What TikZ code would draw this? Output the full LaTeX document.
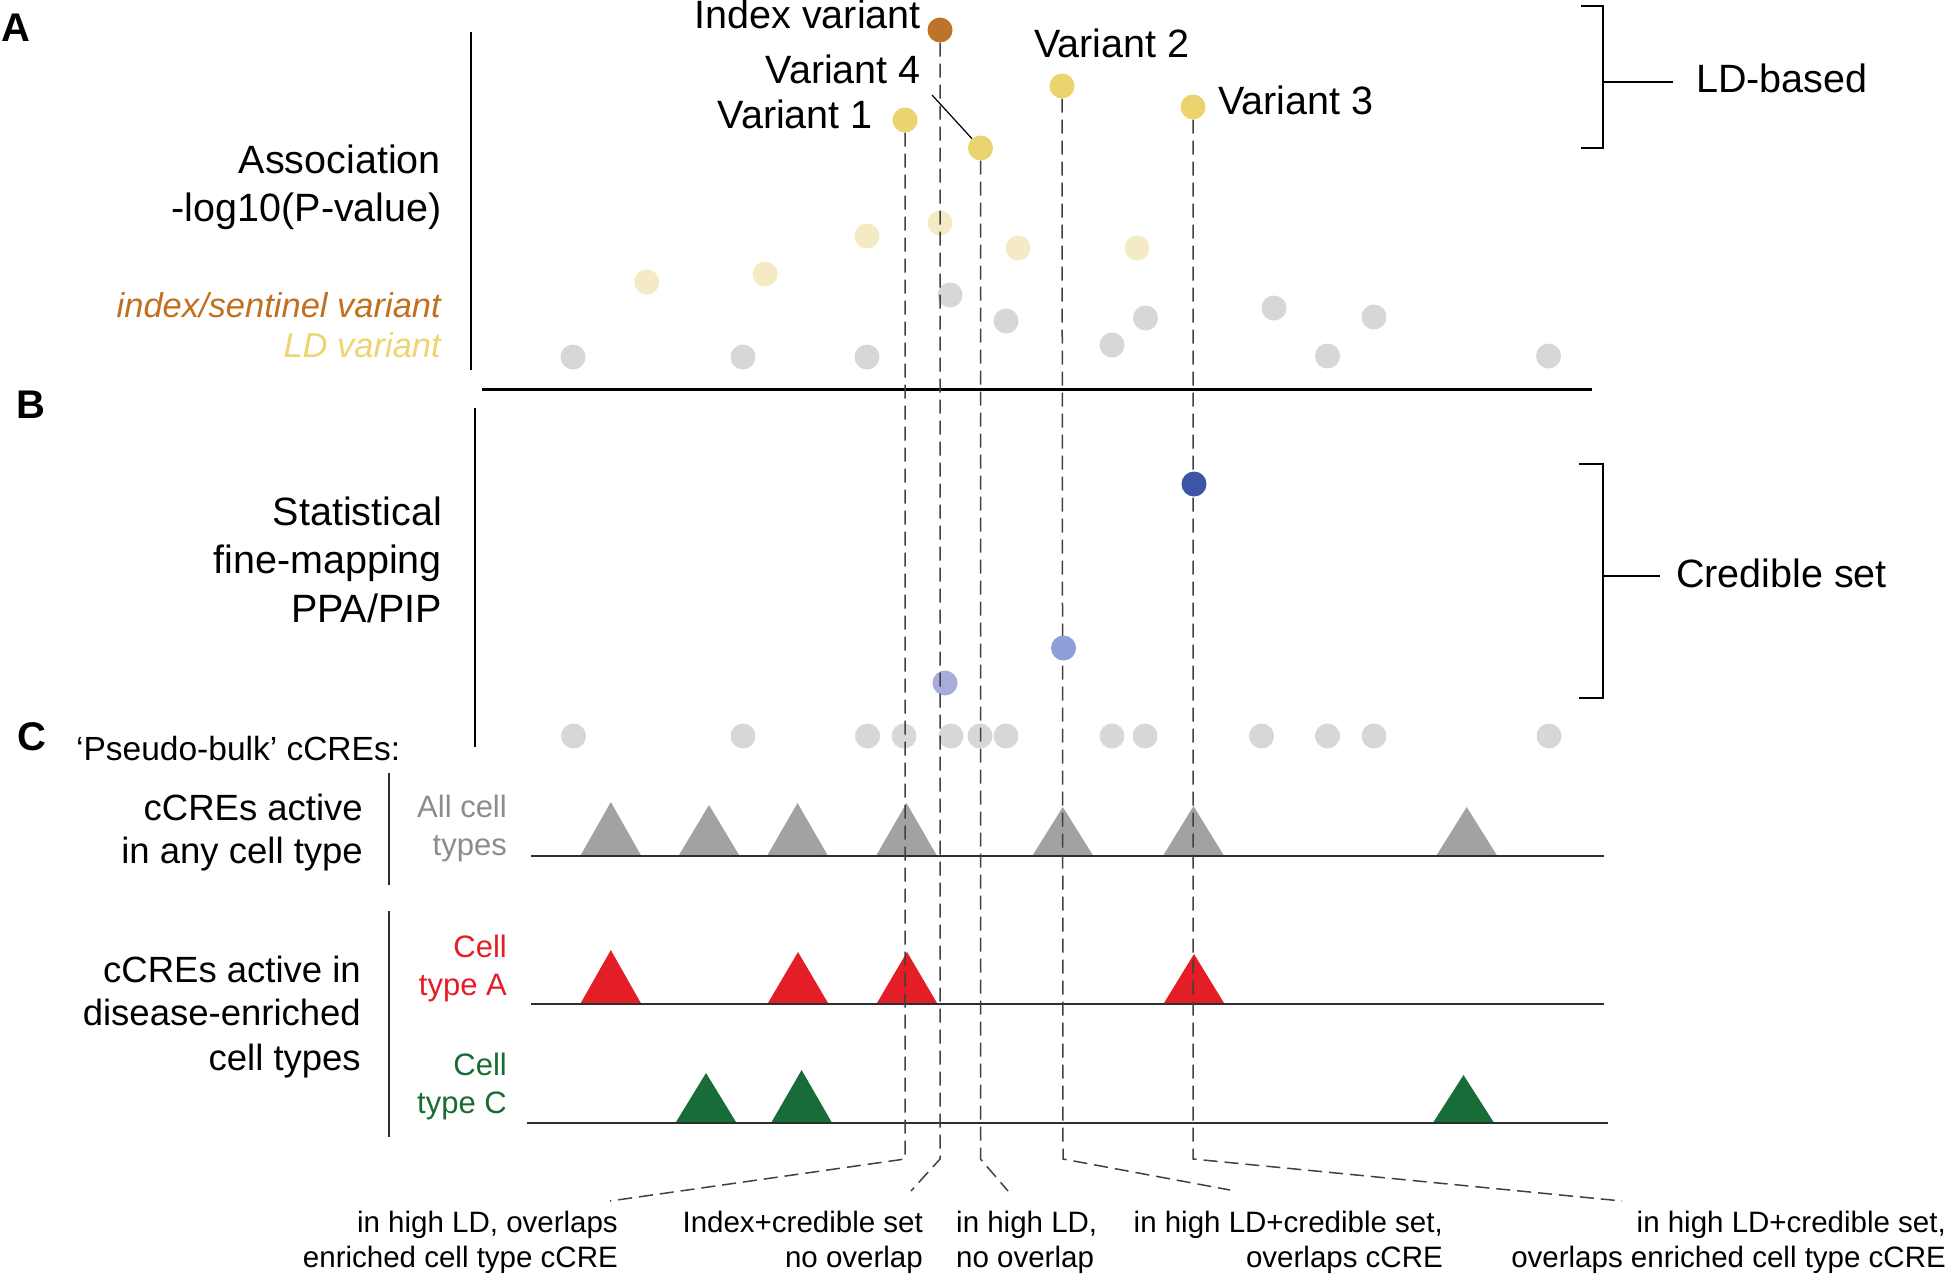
\documentclass[tikz,border=0pt]{standalone}
\usepackage{fontspec}
\setmainfont{Liberation Sans}
\pgfdeclarelayer{back}
\pgfdeclarelayer{front}
\pgfsetlayers{back,main,front}
\definecolor{cIdx}{HTML}{BF7329}
\definecolor{cIdxTxt}{HTML}{C0701F}
\definecolor{cLD}{HTML}{EBD370}
\definecolor{cLDtxt}{HTML}{EDD570}
\definecolor{cLDlight}{HTML}{F4EBC4}
\definecolor{cGrayDot}{HTML}{D6D7D7}
\definecolor{cBlueD}{HTML}{3E54A5}
\definecolor{cBlueM}{HTML}{8E9ED6}
\definecolor{cBlueL}{HTML}{A7ACDB}
\definecolor{cTriG}{HTML}{A2A2A2}
\definecolor{cTriR}{HTML}{E31E26}
\definecolor{cTriGr}{HTML}{186C37}
\definecolor{cTxtGray}{HTML}{8C8C8C}
\definecolor{cTxtGreen}{HTML}{1A6B30}
\definecolor{cDash}{HTML}{404040}
\definecolor{cTrack}{HTML}{2E2E2E}
\newcommand\mytri[4]{\fill[#1] ({#2-30},#4) -- (#2,#3) -- ({#2+30},#4) -- cycle;}
\begin{document}
\begin{tikzpicture}[x=1pt,y=-1pt,
  dot/.style={circle,inner sep=0pt,minimum size=25pt,draw=none},
  gdot/.style={dot,fill=cGrayDot},
  ydot/.style={dot,fill=cLD},
  lydot/.style={dot,fill=cLDlight},
  txt/.style={inner sep=0pt},
  big/.style={txt,font=\fontsize{39.5}{46}\selectfont},
  mid/.style={txt,font=\fontsize{36.5}{44}\selectfont},
  ital/.style={txt,font=\fontsize{34.5}{40}\selectfont\itshape},
  side/.style={txt,font=\fontsize{31}{38}\selectfont},
  small/.style={txt,font=\fontsize{29.5}{35}\selectfont},
  plbl/.style={txt,font=\fontsize{40}{48}\selectfont\bfseries},
  axis/.style={line width=2.5pt,black},
  sepline/.style={line width=3pt,black},
  thinax/.style={line width=1.5pt,cTrack},
  track/.style={line width=2pt,cTrack},
  brk/.style={line width=2.5pt,black},
  dl/.style={line width=1.5pt,cDash,dash pattern=on 14pt off 7pt},
  lead/.style={line width=1.2pt,black}
]
\useasboundingbox (0,0) rectangle (1950,1274);

% ---------- panel labels
\node[plbl,anchor=base west] (labA) at (1,41) {A};
\node[plbl,anchor=base west] (labB) at (16,418) {B};
\node[plbl,anchor=base west] (labC) at (17,750) {C};

% ---------- panel A texts
\node[big,anchor=base east] (a1) at (441,173) {Association};
\node[big,anchor=base east] (a2) at (442,221) {-log10(P-value)};
\node[ital,anchor=base east,text=cIdxTxt] (a3) at (441,317) {index/sentinel variant};
\node[ital,anchor=base east,text=cLDtxt] (a4) at (441,357) {LD variant};

\node[big,anchor=base east] (tIdx) at (921,28) {Index variant};
\node[big,anchor=base east] (tV4) at (921,83) {Variant 4};
\node[big,anchor=base east] (tV1) at (873,128) {Variant 1};
\node[big,anchor=base west] (tV2) at (1034,57) {Variant 2};
\node[big,anchor=base west] (tV3) at (1218,114) {Variant 3};

\node[big,anchor=base west] (tLD) at (1696,92) {LD-based};
\node[big,anchor=base west] (tCS) at (1676,587) {Credible set};

% ---------- panel B texts
\node[big,anchor=base east] (b1) at (442,525) {Statistical};
\node[big,anchor=base east] (b2) at (442,573) {fine-mapping};
\node[big,anchor=base east] (b3) at (442,622) {PPA/PIP};

% ---------- panel C texts
\node[txt,font=\fontsize{33.5}{40}\selectfont,anchor=base west] (pb) at (76,760) {‘Pseudo-bulk’ cCREs:};
\node[mid,anchor=base east] (c1) at (363,820) {cCREs active};
\node[mid,anchor=base east] (c2) at (363,863) {in any cell type};
\node[mid,anchor=base east] (c3) at (361,982) {cCREs active in};
\node[mid,anchor=base east] (c4) at (361,1025) {disease-enriched};
\node[mid,anchor=base east] (c5) at (361,1070) {cell types};
\node[side,anchor=base east,text=cTxtGray] (s1) at (507,817) {All cell};
\node[side,anchor=base east,text=cTxtGray] (s2) at (507,855) {types};
\node[side,anchor=base east,text=cTriR] (s3) at (507,957) {Cell};
\node[side,anchor=base east,text=cTriR] (s4) at (507,995) {type A};
\node[side,anchor=base east,text=cTxtGreen] (s5) at (507,1075) {Cell};
\node[side,anchor=base east,text=cTxtGreen] (s6) at (507,1113) {type C};

% ---------- bottom texts
\node[small,anchor=base east] (e1a) at (618,1232) {in high LD, overlaps};
\node[small,anchor=base east] (e1b) at (618,1267) {enriched cell type cCRE};
\node[small,anchor=base east] (e2a) at (923,1232) {Index+credible set};
\node[small,anchor=base east] (e2b) at (923,1267) {no overlap};
\node[small,anchor=base west] (e3a) at (956,1232) {in high LD,};
\node[small,anchor=base west] (e3b) at (956,1267) {no overlap};
\node[small,anchor=base east] (e4a) at (1443,1232) {in high LD+credible set,};
\node[small,anchor=base east] (e4b) at (1443,1267) {overlaps cCRE};
\node[small,anchor=base east] (e5a) at (1946,1232) {in high LD+credible set,};
\node[small,anchor=base east] (e5b) at (1946,1267) {overlaps enriched cell type cCRE};

% ---------- axes, separators, brackets
\draw[axis] (471,32) -- (471,370);
\draw[sepline] (482,389) -- (1592,389);
\draw[axis] (475,408) -- (475,747);
\draw[thinax] (389,773) -- (389,885);
\draw[thinax] (389,911) -- (389,1137);
\draw[brk] (1581,6) -- (1603,6) -- (1603,148) -- (1581,148);
\draw[brk] (1603,82) -- (1673,82);
\draw[brk] (1579,464) -- (1603,464) -- (1603,698) -- (1579,698);
\draw[brk] (1603,576) -- (1660,576);

% ---------- background layer: gray and light dots, tracks, triangles
\begin{pgfonlayer}{back}
  % panel A gray dots
  \node[gdot] (ga1) at (573,357) {};
  \node[gdot] (ga2) at (743,357) {};
  \node[gdot] (ga3) at (867,357) {};
  \node[gdot] (ga4) at (950,295) {};
  \node[gdot] (ga5) at (1006,321) {};
  \node[gdot] (ga6) at (1112,345) {};
  \node[gdot] (ga7) at (1145.5,318) {};
  \node[gdot] (ga8) at (1274,308) {};
  \node[gdot] (ga9) at (1327.5,356) {};
  \node[gdot] (ga10) at (1374,317) {};
  \node[gdot] (ga11) at (1548.5,356) {};
  % panel A light LD dots
  \node[lydot] (ly1) at (646.7,282) {};
  \node[lydot] (ly2) at (765,274) {};
  \node[lydot] (ly3) at (867,236) {};
  \node[lydot] (ly4) at (940,223) {};
  \node[lydot] (ly5) at (1018,248) {};
  \node[lydot] (ly6) at (1137,248) {};
  % panel B gray row
  \foreach \xx [count=\i] in {573.5,743,867.5,904,951,980,1006,1112,1145,1261.5,1327.5,1374,1549}
    \node[gdot] (gb\i) at (\xx,736) {};
  \node[dot,fill=cBlueL] (bl) at (945,683) {};
  % triangles
  \mytri{cTriG}{610.8}{802}{855}
  \mytri{cTriG}{709}{805}{855}
  \mytri{cTriG}{797.5}{803}{855}
  \mytri{cTriG}{906.5}{803}{855}
  \mytri{cTriG}{1062.8}{807}{855}
  \mytri{cTriG}{1193.5}{806}{855}
  \mytri{cTriG}{1466.7}{807}{855}
  \mytri{cTriR}{610.8}{950}{1003}
  \mytri{cTriR}{798}{952}{1003}
  \mytri{cTriR}{907}{952}{1003}
  \mytri{cTriR}{1194}{954}{1003}
  \mytri{cTriGr}{706}{1073}{1122}
  \mytri{cTriGr}{801.6}{1070}{1122}
  \mytri{cTriGr}{1463.5}{1075}{1122}
  % tracks
  \draw[track] (531,855.5) -- (1604,855.5);
  \draw[track] (531,1004) -- (1604,1004);
  \draw[track] (527,1123) -- (1608,1123);
\end{pgfonlayer}

% ---------- front layer: highlighted variants
\begin{pgfonlayer}{front}
  \node[dot,fill=cIdx] (vi) at (940,30) {};
  \node[ydot] (v1) at (905,120) {};
  \node[ydot] (v4) at (980.5,148) {};
  \node[ydot] (v2) at (1062,86) {};
  \node[ydot] (v3) at (1193,107) {};
  \node[dot,fill=cBlueD] (bd) at (1194,484) {};
  \node[dot,fill=cBlueM] (bm) at (1063.5,648) {};
\end{pgfonlayer}

% ---------- connectors
\coordinate (v4lead) at (932,95);
\draw[lead] (v4lead) -- (v4);

\coordinate (v1b) at (905,1159);   \coordinate (v1e) at (610,1201);
\coordinate (vib) at (940,1159);   \coordinate (vie) at (911,1191);
\coordinate (v4b) at (980.5,1159); \coordinate (v4e) at (1008,1191);
\coordinate (v2b) at (1063,1159);  \coordinate (v2e) at (1230,1190);
\coordinate (v3b) at (1193,1159);  \coordinate (v3e) at (1622,1201);
\draw[dl] (v1) -- (v1b) -- (v1e);
\draw[dl] (vi) -- (vib) -- (vie);
\draw[dl] (v4) -- (v4b) -- (v4e);
\draw[dl] (v2) -- (v2b) -- (v2e);
\draw[dl] (v3) -- (v3b) -- (v3e);
\end{tikzpicture}
\end{document}
